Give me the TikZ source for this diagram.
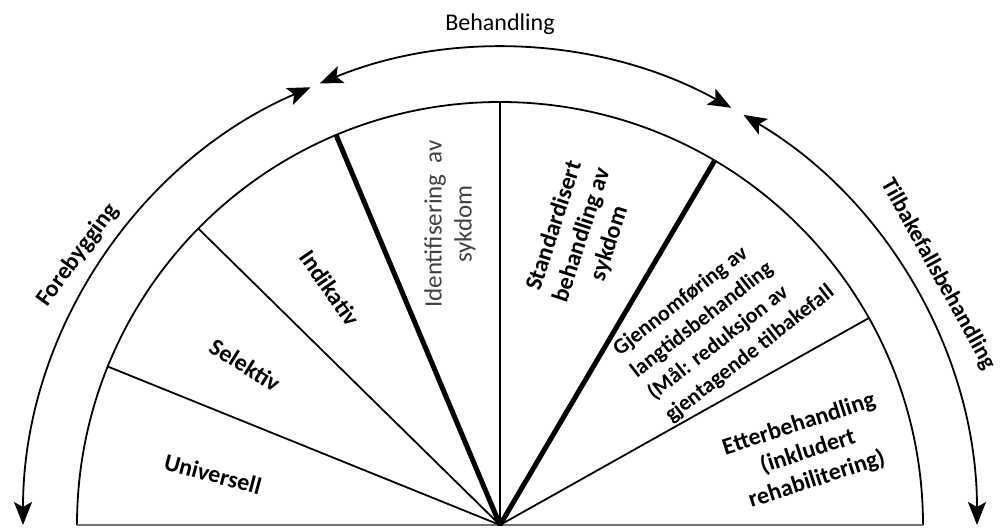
\documentclass[tikz,border=0pt]{standalone}
\usepackage{fontspec}
\setmainfont{Carlito}
\usetikzlibrary{arrows.meta}
\begin{document}
\begin{tikzpicture}[x=1pt,y=1pt,
  thinline/.style={line width=1.8pt},
  thickline/.style={line width=5pt},
  headtip/.tip={Stealth[length=23pt,width=18pt,inset=5pt]},
  arcline/.style={line width=1.8pt, headtip-headtip},
  lab/.style={font=\fontsize{24}{29}\selectfont\bfseries, align=center, inner sep=0pt},
]
\useasboundingbox (-500,-3) rectangle (500,525);
\coordinate (c) at (0,0);
% inner semicircle and base
\draw[thinline] (180:423) arc[start angle=180,end angle=0,radius=423pt];
\draw[thinline, black!55] (180:423) -- (0:423);
% radial dividers
\foreach \a in {158,135.5,90,29.3} \draw[thinline] (c) -- (\a:423);
\draw[thickline] (c) -- (112.8:423);
\draw[thickline] (c) -- (59.5:423);
% outer arrows
\draw[arcline] (113.4:477) arc[start angle=113.4,end angle=180,radius=477pt];
\draw[arcline] (61:477) arc[start angle=61,end angle=112.2,radius=477pt];
\draw[arcline] (0:477) arc[start angle=0,end angle=59.3,radius=477pt];
% labels
\node[lab, rotate=-15] (u) at (-287,51) {Universell};
\node[lab, rotate=-32] (s) at (-255,160) {Selektiv};
\node[lab, rotate=-55] (ind) at (-170,237) {Indikativ};
\node[lab, rotate=90, font=\fontsize{25}{30}\selectfont, text=black!75] (id) at (-50,301) {Identifisering\ \ av\\sykdom};
\node[lab, rotate=72] (st) at (82,290) {Standardisert\\behandling av\\sykdom};
\node[lab, rotate=38, align=left, font=\fontsize{22}{28}\selectfont\bfseries] (gj) at (224,204) {Gjennomføring av\\langtidsbehandling\\(Mål: reduksjon av\\gjentagende tilbakefall};
\node[lab, rotate=18] (et) at (308,73) {Etterbehandling\\(inkludert\\rehabilitering)};
\node[lab, rotate=54] (fb) at (-422,270) {Forebygging};
\node[lab, rotate=-61, font=\fontsize{23}{28}\selectfont\bfseries] (tb) at (438,251) {Tilbakefallsbehandling};
\node[lab, font=\fontsize{24}{29}\selectfont] (beh) at (0,501) {Behandling};
\end{tikzpicture}
\end{document}
